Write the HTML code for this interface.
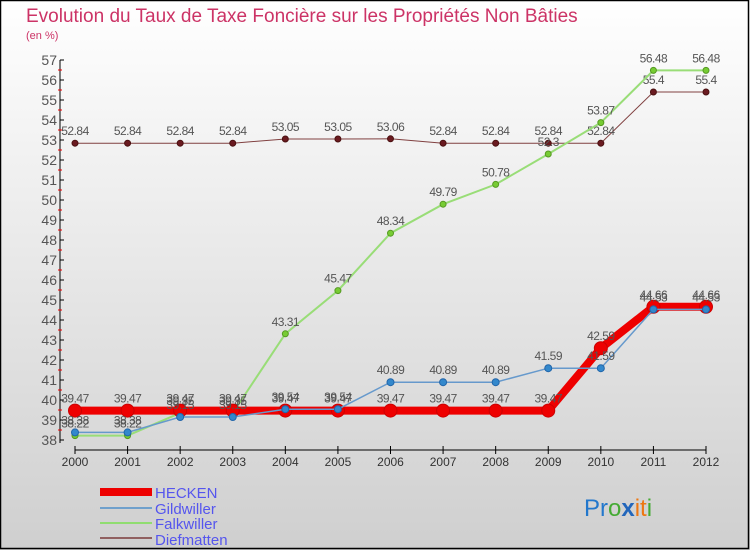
<!DOCTYPE html>
<html><head><meta charset="utf-8">
<style>
html,body{margin:0;padding:0;}
body{width:750px;height:550px;overflow:hidden;font-family:"Liberation Sans",sans-serif;}
svg text{font-family:"Liberation Sans",sans-serif;}
</style></head>
<body>
<svg id="chart" width="750" height="550" viewBox="0 0 750 550" xmlns="http://www.w3.org/2000/svg">
<defs>
<linearGradient id="bg" x1="0" y1="0" x2="0" y2="1">
<stop offset="0" stop-color="#ffffff"/><stop offset="1" stop-color="#cfcfcf"/>
</linearGradient>
</defs>
<rect x="0" y="0" width="750" height="550" fill="url(#bg)"/>
<rect x="0.5" y="0.5" width="748" height="548" fill="none" stroke="#000" stroke-width="1.5"/>
<text x="26" y="22" font-size="19" fill="#cc3366">Evolution du Taux de Taxe Foncière sur les Propriétés Non Bâties</text>
<text x="26" y="39" font-size="11" fill="#cc3366">(en %)</text>
<g id="plot"></g>
<g>
<rect x="100" y="488" width="52" height="8" fill="#ee0000"/>
<text x="155" y="498" font-size="15" fill="#5555ee">HECKEN</text>
<rect x="100" y="507" width="52" height="2" fill="#6fa0cc"/>
<text x="155" y="514" font-size="15" fill="#5555ee">Gildwiller</text>
<rect x="100" y="522" width="52" height="2" fill="#90dd70"/>
<text x="155" y="529" font-size="15" fill="#5555ee">Falkwiller</text>
<rect x="100" y="537" width="52" height="2" fill="#906060"/>
<text x="155" y="545" font-size="15" fill="#5555ee">Diefmatten</text>
</g>
<text x="584" y="516" font-size="24"><tspan fill="#2277cc">Pr</tspan><tspan fill="#44aa33">o</tspan><tspan fill="#2266bb" font-weight="bold">x</tspan><tspan fill="#ee7711">it</tspan><tspan fill="#44aa33">i</tspan></text>
</svg>
<script>
const years = ["2000","2001","2002","2003","2004","2005","2006","2007","2008","2009","2010","2011","2012"];
const hecken = [39.47,39.47,39.47,39.47,39.47,39.47,39.47,39.47,39.47,39.47,42.59,44.66,44.66];
const gildwiller = [38.38,38.38,39.15,39.15,39.54,39.54,40.89,40.89,40.89,41.59,41.59,44.53,44.53];
const falkwiller = [38.22,38.22,39.35,39.35,43.31,45.47,48.34,49.79,50.78,52.3,53.87,56.48,56.48];
const diefmatten = [52.84,52.84,52.84,52.84,53.05,53.05,53.06,52.84,52.84,52.84,52.84,55.4,55.4];
const yTicks = [38,39,40,41,42,43,44,45,46,47,48,49,50,51,52,53,54,55,56,57];

const NS="http://www.w3.org/2000/svg";
const plot=document.getElementById('plot');
const yMin=38,yMax=57,yTop=60,yBot=440;
const xL=75,xR=706;
function sy(v){return yBot-(v-yMin)/(yMax-yMin)*(yBot-yTop);}
function sx(i){return xL+i*(xR-xL)/(years.length-1);}
function mk(tag,attrs,parent){const e=document.createElementNS(NS,tag);for(const k in attrs)e.setAttribute(k,attrs[k]);(parent||plot).appendChild(e);return e;}

let ax=mk('line',{x1:60,y1:yTop,x2:60,y2:yBot+3,stroke:'#000','stroke-width':1});


yTicks.forEach((t,k)=>{
  const y=sy(t);
  const tk=mk('line',{x1:60,y1:y,x2:64,y2:y,stroke:'#000'});
  
  
  if(k>0){
    const mt=mk('line',{x1:58,y1:y+10,x2:62,y2:y+10,stroke:'#ee0000'});
    
    
  }
  const lb=mk('text',{x:57,y:y+5,'font-size':14,'text-anchor':'end',fill:'#555'});
  lb.textContent=t;
  
  
});
let xa=mk('line',{x1:xL,y1:450,x2:xR,y2:450,stroke:'#000'});


years.forEach((yr,i)=>{
  const x=sx(i);
  const tk=mk('line',{x1:x,y1:446,x2:x,y2:454,stroke:'#000'});
  
  
  const lb=mk('text',{x:x,y:466,'font-size':12,'text-anchor':'middle',fill:'#333'});
  lb.textContent=yr;
  
  
});

function series(name,vals,color,width,r,dot,dotStroke){
  const g=mk('g',{});
  
  
  const pts=vals.map((v,i)=>sx(i)+','+sy(v)).join(' ');
  const pl=mk('polyline',{points:pts,fill:'none',stroke:color,'stroke-width':width},g);
  
  
  vals.forEach((v,i)=>{
    const c=mk('circle',{cx:sx(i),cy:sy(v),r:r,fill:dot,stroke:dotStroke,'stroke-width':1},g);
    
    
    const t=mk('text',{x:sx(i),y:sy(v)-8,'font-size':12,'text-anchor':'middle',fill:'#555','letter-spacing':'-0.5'},g);
    t.textContent=v;
    
    
  });
}
series('diefmatten',diefmatten,'#804040',1,3,'#6a1a20','#4a1010');
series('falkwiller',falkwiller,'#99dd77',2,3,'#77cc33','#559922');
series('hecken',hecken,'#ee0000',8,6.5,'#ee0000','#cc0000');
series('gildwiller',gildwiller,'#6699cc',1.5,3.5,'#3388cc','#2266aa');
</script>
</body></html>
